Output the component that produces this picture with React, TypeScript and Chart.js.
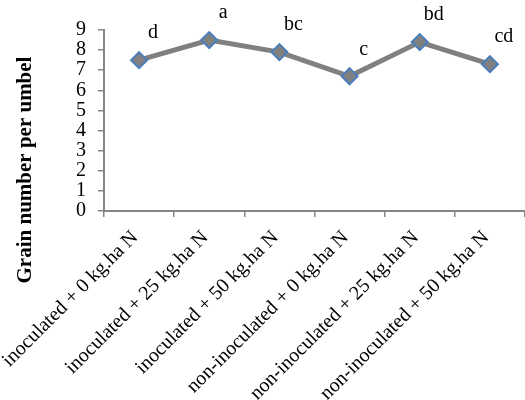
import { useEffect, useRef } from "react";
import { Chart, registerables } from "chart.js";

Chart.register(...registerables);

const categories = [
  "inoculated + 0 kg.ha N",
  "inoculated + 25 kg.ha N",
  "inoculated + 50 kg.ha N",
  "non-inoculated + 0 kg.ha N",
  "non-inoculated + 25 kg.ha N",
  "non-inoculated + 50 kg.ha N",
];
const grainValues = [7.5, 8.5, 7.9, 6.7, 8.4, 7.3];
const groupLetters = ["d", "a", "bc", "c", "bd", "cd"];
const yAxisTitle = "Grain number per umbel";
const yMin = 0;
const yMax = 9;
const yStep = 1;

const FONT = "'Liberation Serif', 'Times New Roman', serif";
const AXIS_COLOR = "#868686";

export default function App() {
  const canvasRef = useRef<HTMLCanvasElement | null>(null);

  useEffect(() => {
    document.body.style.margin = "0";
    const canvas = canvasRef.current;
    if (!canvas) return;

    const lettersPlugin = {
      id: "groupLetters",
      afterDatasetsDraw(chart: any) {
        const meta = chart.getDatasetMeta(0);
        const ctx = chart.ctx;
        ctx.save();
        ctx.font = `20px ${FONT}`;
        ctx.fillStyle = "#000";
        ctx.textAlign = "center";
        ctx.textBaseline = "middle";
        meta.data.forEach((pt: any, i: number) => {
          ctx.fillText(groupLetters[i], pt.x + 14, pt.y - 27);
        });
        ctx.restore();
      },
    };

    const yTitlePlugin = {
      id: "yTitle",
      afterDraw(chart: any) {
        const ctx = chart.ctx;
        ctx.save();
        ctx.font = `bold 21px ${FONT}`;
        ctx.fillStyle = "#000";
        ctx.textAlign = "center";
        ctx.textBaseline = "middle";
        ctx.translate(26, chart.chartArea.bottom - 41);
        ctx.rotate(-Math.PI / 2);
        ctx.fillText(yAxisTitle, 0, 0);
        ctx.restore();
      },
    };

    const chart = new Chart(canvas, {
      type: "line",
      data: {
        labels: categories,
        datasets: [
          {
            data: grainValues,
            borderColor: "#808080",
            borderWidth: 5,
            tension: 0,
            pointStyle: "rectRot",
            pointRadius: 8,
            pointHoverRadius: 8,
            pointBackgroundColor: "#808080",
            pointBorderColor: "#4a7ebb",
            pointBorderWidth: 2,
            clip: false as any,
          },
        ],
      },
      options: {
        animation: false,
        responsive: true,
        maintainAspectRatio: false,
        layout: { autoPadding: false, padding: { top: 30, left: 0, right: 0, bottom: 0 } },
        plugins: {
          legend: { display: false },
          tooltip: { enabled: false },
        },
        scales: {
          x: {
            type: "category",
            offset: true,
            grid: {
              offset: true,
              drawOnChartArea: false,
              drawTicks: true,
              tickLength: 6,
              color: AXIS_COLOR,
              lineWidth: 1.5,
            },
            border: { display: true, color: AXIS_COLOR, width: 2 },
            ticks: {
              color: "#000",
              font: { family: FONT, size: 20 },
              maxRotation: 45,
              minRotation: 45,
              autoSkip: false,
              padding: 9,
              labelOffset: -4,
            },
            afterFit(scale: any) {
              scale.height = 189;
              scale.paddingLeft = 0;
              scale.paddingRight = 0;
            },
          },
          y: {
            min: yMin,
            max: yMax,
            grid: {
              drawOnChartArea: false,
              drawTicks: true,
              tickLength: 6,
              color: AXIS_COLOR,
              lineWidth: 1.5,
            },
            border: { display: true, color: AXIS_COLOR, width: 2 },
            ticks: {
              stepSize: yStep,
              autoSkip: false,
              color: "#000",
              font: { family: FONT, size: 20 },
              padding: 12,
            },
            afterFit(scale: any) {
              scale.width = 104;
              scale.paddingTop = 0;
              scale.paddingBottom = 0;
            },
          },
        },
      },
      plugins: [lettersPlugin, yTitlePlugin],
    });

    return () => chart.destroy();
  }, []);

  return (
    <div style={{ width: 525, height: 400, position: "relative" }}>
      <canvas ref={canvasRef} />
    </div>
  );
}
